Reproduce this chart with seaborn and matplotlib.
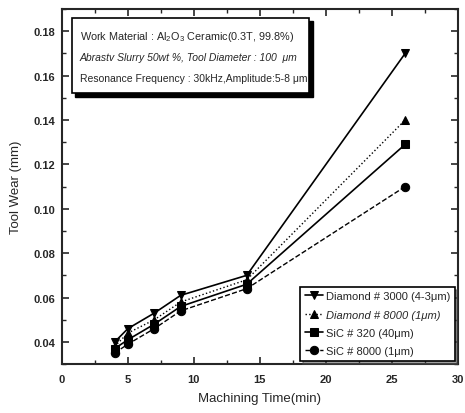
import pandas as pd
import matplotlib
matplotlib.use('Agg')
import matplotlib.pyplot as plt
import seaborn as sns
from matplotlib.patches import Rectangle
from matplotlib.ticker import MultipleLocator

# data
time_min = [4, 5, 7, 9, 14, 26]
diamond_3000 = [0.040, 0.046, 0.053, 0.061, 0.070, 0.170]
diamond_8000 = [0.038, 0.044, 0.050, 0.058, 0.068, 0.140]
sic_320 = [0.037, 0.041, 0.048, 0.056, 0.066, 0.129]
sic_8000 = [0.035, 0.039, 0.046, 0.054, 0.064, 0.110]
labels = ['Diamond # 3000 (4-3μm)', 'Diamond # 8000 (1μm)',
          'SiC # 320 (40μm)', 'SiC # 8000 (1μm)']

sns.set_style('ticks')
plt.rcParams['font.family'] = ['Liberation Sans', 'DejaVu Sans']
plt.rcParams['mathtext.fontset'] = 'custom'
plt.rcParams['mathtext.rm'] = 'Liberation Sans'
plt.rcParams['mathtext.it'] = 'Liberation Sans:italic'

rows = []
for name, vals in zip(labels, [diamond_3000, diamond_8000, sic_320, sic_8000]):
    for t, v in zip(time_min, vals):
        rows.append({'time': t, 'wear': v, 'series': name})
df = pd.DataFrame(rows)

fig = plt.figure(figsize=(4.65, 4.14), dpi=100)
ax = fig.add_axes([0.133, 0.118, 0.852, 0.858])

styles = {
    labels[0]: ('v', '-', 1.2),
    labels[1]: ('^', ':', 1.0),
    labels[2]: ('s', '-', 1.2),
    labels[3]: ('o', '--', 1.0),
}
for name in labels:
    m, ls, lw = styles[name]
    sns.lineplot(data=df[df['series'] == name], x='time', y='wear', ax=ax,
                 color='black', marker=m, markersize=6, linestyle=ls,
                 linewidth=lw, label=name, markeredgecolor='black')

ax.set_xlim(0, 30)
ax.set_ylim(0.03, 0.19)
ax.xaxis.set_major_locator(MultipleLocator(5))
ax.xaxis.set_minor_locator(MultipleLocator(2.5))
ax.yaxis.set_minor_locator(MultipleLocator(0.01))
ax.set_yticks([0.04, 0.06, 0.08, 0.10, 0.12, 0.14, 0.16, 0.18])
ax.set_yticklabels(['0.04', '0.06', '0.08', '0.10', '0.12', '0.14', '0.16', '0.18'])
ax.tick_params(which='both', direction='in', top=True, right=True)
ax.tick_params(which='major', length=5, width=1.2, labelsize=8)
ax.tick_params(which='minor', length=3, width=1)
for lab in ax.get_xticklabels() + ax.get_yticklabels():
    lab.set_fontweight('bold')
ax.tick_params(axis='x', pad=7)
ax.tick_params(axis='y', pad=5)
for sp in ax.spines.values():
    sp.set_linewidth(1.5)

ax.set_xlabel('Machining Time(min)', fontsize=9.5, labelpad=6)
ax.set_ylabel('Tool Wear (mm)', fontsize=9.5, labelpad=8)

# info box with shadow
ax.add_patch(Rectangle((0.033, 0.753), 0.6, 0.212, transform=ax.transAxes,
                       facecolor='black', edgecolor='black', zorder=4))
ax.add_patch(Rectangle((0.025, 0.762), 0.6, 0.212, transform=ax.transAxes,
                       facecolor='white', edgecolor='black', linewidth=1.2, zorder=5))
ax.text(0.045, 0.925, 'Work Material : Al$_2$O$_3$ Ceramic(0.3T, 99.8%)',
        transform=ax.transAxes, fontsize=7.8, va='center', zorder=6)
ax.text(0.045, 0.865, 'Abrastv Slurry 50wt %, Tool Diameter : 100  μm',
        transform=ax.transAxes, fontsize=7.5, va='center', style='italic', zorder=6)
ax.text(0.045, 0.805, 'Resonance Frequency : 30kHz,Amplitude:5-8 μm',
        transform=ax.transAxes, fontsize=7.5, va='center', zorder=6)

leg = ax.legend(loc='lower right', fontsize=8, frameon=True, fancybox=False,
                shadow=True, handlelength=1.6, borderaxespad=0.3,
                labelspacing=0.75, handletextpad=0.3)
leg.get_frame().set_edgecolor('black')
leg.get_frame().set_linewidth(1.2)
leg.get_texts()[1].set_style('italic')

fig.savefig('out.png', dpi=100)
